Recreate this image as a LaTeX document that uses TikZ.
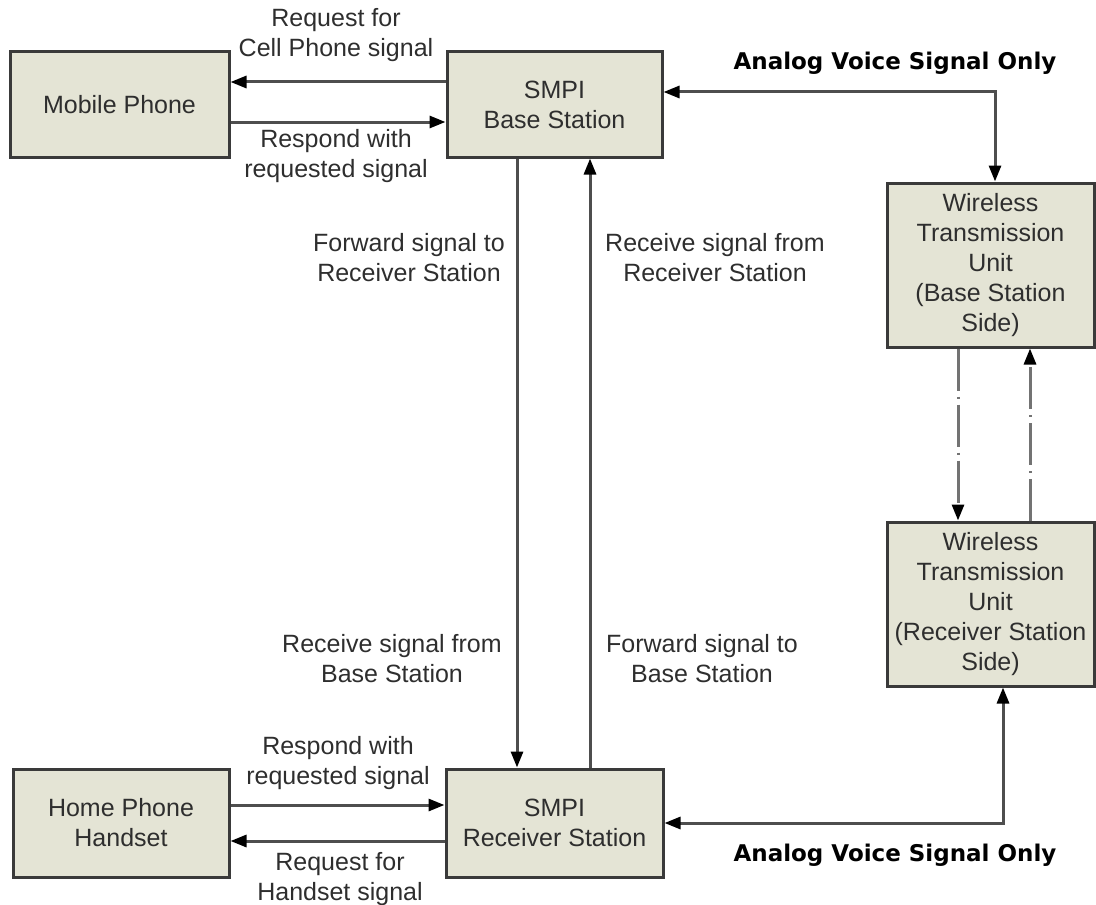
\documentclass[tikz,border=0pt]{standalone}
\usepackage{fontspec}
\setmainfont{Liberation Sans}
\newfontfamily\tagfont{DejaVu Sans}
\usetikzlibrary{arrows.meta}
\definecolor{boxfill}{RGB}{228,228,213}
\definecolor{boxline}{RGB}{58,58,58}
\definecolor{wireline}{RGB}{78,78,78}

\begin{document}
\begin{tikzpicture}[x=0.5pt, y=-0.5pt,
    font=\fontsize{12.5pt}{15pt}\selectfont, text=black!82,
    >={Triangle[length=8pt, width=6pt, black]},
    unitbox/.style={draw=boxline, fill=boxfill, line width=1.5pt, inner sep=0pt, align=center},
    wire/.style={draw=wireline, line width=1.5pt},
    radio/.style={wire, draw=black!55, dash pattern=on 21pt off 3pt on 1pt off 3pt},
    lbl/.style={align=center, inner sep=0pt},
    tag/.style={font=\tagfont\bfseries\fontsize{11.5pt}{14pt}\selectfont, text=black, inner sep=0pt}]
    \useasboundingbox (0,0) rectangle (1096,904);

    \node[unitbox, minimum width=109.5pt, minimum height=52.5pt] (mobile) at (119.5,104.5) {Mobile Phone};
    \node[unitbox, minimum width=107.5pt, minimum height=52.5pt] (base) at (554.5,104.5) {SMPI\\Base Station};
    \node[unitbox, minimum width=103.5pt, minimum height=82pt] (wtubase) at (990.5,265) {Wireless\\Transmission\\Unit\\(Base Station\\Side)};
    \node[unitbox, minimum width=103.5pt, minimum height=82pt] (wturecv) at (990.5,604) {Wireless\\Transmission\\Unit\\(Receiver Station\\Side)};
    \node[unitbox, minimum width=108pt, minimum height=54pt] (home) at (121,823) {Home Phone\\Handset};
    \node[unitbox, minimum width=108.5pt, minimum height=54pt] (recv) at (554.5,823) {SMPI\\Receiver Station};

    \draw[wire, ->] ([yshift=11.25pt]base.west) -- ([yshift=11.25pt]mobile.east);
    \draw[wire, ->] ([yshift=-8.75pt]mobile.east) -- ([yshift=-8.75pt]base.west);
    \node[lbl] (reqcell) at (336,35) {Request for\\Cell Phone signal};
    \node[lbl] (respcell) at (336,156) {Respond with\\requested signal};

    \draw[wire, ->] ([xshift=-18.75pt]base.south) -- ([xshift=-18.75pt]recv.north);
    \draw[wire, ->] ([xshift=17.75pt]recv.north) -- ([xshift=17.75pt]base.south);
    \node[lbl] (fwdrecv) at (409,258) {Forward signal to\\Receiver Station};
    \node[lbl] (rcvrecv) at (715,258) {Receive signal from\\Receiver Station};
    \node[lbl] (rcvbase) at (392,659) {Receive signal from\\Base Station};
    \node[lbl] (fwdbase) at (702,659) {Forward signal to\\Base Station};

    \draw[wire, <->] ([yshift=6.25pt]base.east) -| ([xshift=2.25pt]wtubase.north);
    \draw[wire, <->] (recv.east) -| ([xshift=6.25pt]wturecv.south);
    \node[tag] (analogtop) at (895,63) {Analog Voice Signal Only};
    \node[tag] (analogbot) at (895,855) {Analog Voice Signal Only};

    \draw[radio, ->] ([xshift=-16.25pt]wtubase.south) -- ([xshift=-16.25pt]wturecv.north);
    \draw[radio, ->] ([xshift=19.75pt]wturecv.north) -- ([xshift=19.75pt]wtubase.south);

    \draw[wire, ->] ([yshift=9pt]home.east) -- ([yshift=9pt]recv.west);
    \draw[wire, ->] ([yshift=-9pt]recv.west) -- ([yshift=-9pt]home.east);
    \node[lbl] (resphome) at (338,763) {Respond with\\requested signal};
    \node[lbl] (reqhome) at (340,879) {Request for\\Handset signal};
\end{tikzpicture}
\end{document}
